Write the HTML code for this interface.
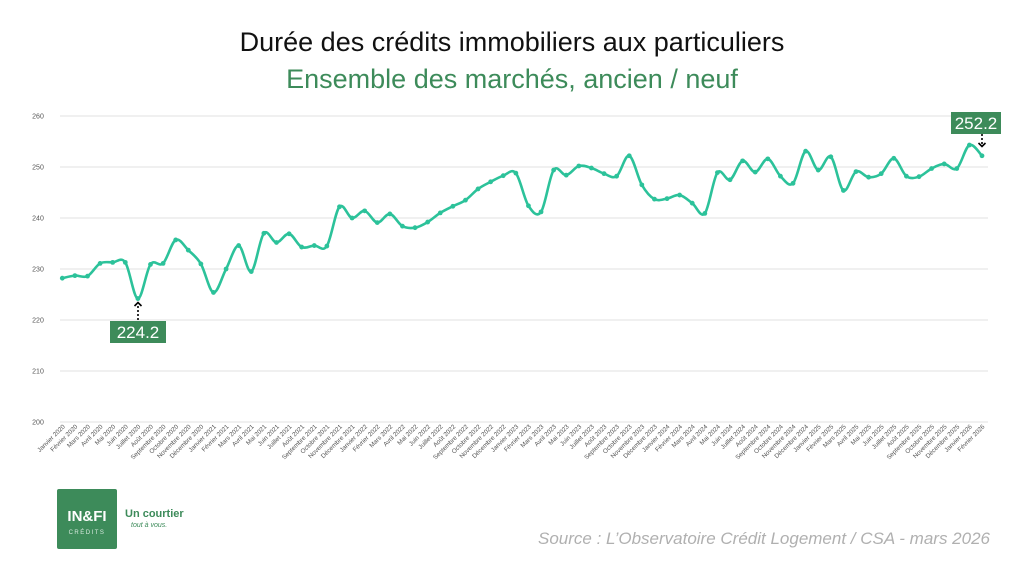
<!DOCTYPE html>
<html><head><meta charset="utf-8"><style>
body{margin:0;width:1024px;height:576px;background:#fff;overflow:hidden;font-family:"Liberation Sans",sans-serif}
</style></head><body>
<svg id="s" width="1024" height="576" xmlns="http://www.w3.org/2000/svg">
<text x="512" y="51" text-anchor="middle" font-size="27" fill="#111">Durée des crédits immobiliers aux particuliers</text>
<text x="512" y="88" text-anchor="middle" font-size="27" fill="#3d8b5a">Ensemble des marchés, ancien / neuf</text>
<text x="990" y="544" text-anchor="end" font-size="17" font-style="italic" fill="#b0b0b0">Source : L’Observatoire Crédit Logement / CSA - mars 2026</text>
<rect x="57" y="489" width="60" height="60" rx="2" fill="#3d8b5a"/>
<text x="87" y="521" text-anchor="middle" font-size="15" font-weight="bold" fill="#fff">IN&amp;FI</text>
<text x="87" y="534" text-anchor="middle" font-size="6" letter-spacing="1.5" fill="#d8eadf">CRÉDITS</text>
<text x="125" y="517" font-size="11" font-weight="bold" fill="#3d8b5a">Un courtier</text>
<text x="131" y="527" font-size="7" font-style="italic" fill="#3d8b5a">tout à vous.</text>
<g id="g"></g>
</svg>
<script>
var d=[228.2,228.7,228.6,231.1,231.3,231.3,224.2,230.9,231.1,235.7,233.7,231.0,225.4,230.0,234.6,229.5,237.0,235.2,236.9,234.3,234.6,234.5,242.2,240.0,241.4,239.1,240.8,238.4,238.1,239.2,241.0,242.3,243.5,245.7,247.1,248.3,248.8,242.4,241.2,249.4,248.4,250.2,249.8,248.7,248.2,252.2,246.5,243.7,243.8,244.5,242.9,240.9,248.9,247.5,251.2,249.0,251.6,248.2,246.8,253.1,249.4,252.0,245.4,249.1,248.0,248.7,251.7,248.2,248.1,249.7,250.6,249.7,254.3,252.2];
var m=["Janvier","Février","Mars","Avril","Mai","Juin","Juillet","Août","Septembre","Octobre","Novembre","Décembre"];
function X(i){return 62.3+i*919.7/73}function Y(v){return 422-(v-200)*5.1}
var h="";
for(var k=0;k<=6;k++){var y=422-k*51;h+='<line x1="60" x2="988" y1="'+y+'" y2="'+y+'" stroke="#e2e2e2" stroke-width="1"/><text x="38" y="'+(y+2.5)+'" font-size="7" fill="#555" text-anchor="middle">'+(200+k*10)+'</text>';}
for(var i=0;i<d.length;i++){var x=X(i)+3;h+='<text transform="translate('+x+',427) rotate(-45)" text-anchor="end" font-size="6.3" fill="#555">'+m[i%12]+' '+(2020+Math.floor(i/12))+'</text>';}
var p="M"+X(0)+","+Y(d[0]);
for(var i=0;i<d.length-1;i++){var a=Math.max(i-1,0),b=Math.min(i+2,d.length-1);
var x0=X(a),y0=Y(d[a]),x1=X(i),y1=Y(d[i]),x2=X(i+1),y2=Y(d[i+1]),x3=X(b),y3=Y(d[b]),t=0.3;
p+=" C"+(x1+(x2-x0)*t/1.8)+","+(y1+(y2-y0)*t/1.8)+" "+(x2-(x3-x1)*t/1.8)+","+(y2-(y3-y1)*t/1.8)+" "+x2+","+y2;}
h+='<path d="'+p+'" fill="none" stroke="#2cc29a" stroke-width="2.6" stroke-linejoin="round"/>';
for(var i=0;i<d.length;i++)h+='<circle cx="'+X(i)+'" cy="'+Y(d[i])+'" r="2.4" fill="#2cc29a"/>';
h+='<line x1="138" y1="320" x2="138" y2="304" stroke="#000" stroke-width="1.6" stroke-dasharray="2,2"/><path d="M134.5,306 L138,302.5 L141.5,306" fill="none" stroke="#000" stroke-width="1.6"/>';
h+='<rect x="110" y="321" width="56" height="22" fill="#3d8b5a"/><text x="138" y="338" text-anchor="middle" font-size="17" fill="#fff">224.2</text>';
h+='<line x1="982" y1="134" x2="982" y2="145" stroke="#000" stroke-width="1.6" stroke-dasharray="2,2"/><path d="M978.5,143 L982,146.5 L985.5,143" fill="none" stroke="#000" stroke-width="1.6"/>';
h+='<rect x="951" y="112" width="50" height="22" fill="#3d8b5a"/><text x="976" y="129" text-anchor="middle" font-size="17" fill="#fff">252.2</text>';
document.getElementById("g").innerHTML=h;
</script>
</body></html>
